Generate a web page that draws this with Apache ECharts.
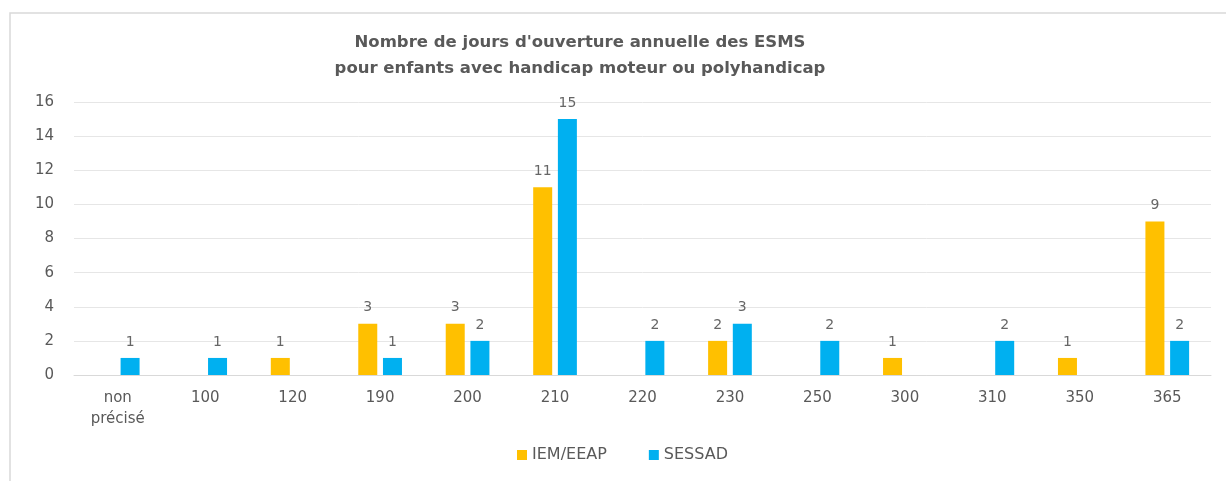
<!DOCTYPE html>
<html>
<head>
<meta charset="utf-8">
<script src="https://cdn.jsdelivr.net/npm/echarts@6/dist/echarts.min.js"></script>
<style>
  html, body { margin: 0; padding: 0; background: #fff; }
  #chart { width: 1226px; height: 481px; }
</style>
</head>
<body>
<div id="chart"></div>
<script>
// catégories (jours d'ouverture)
const categories = ['non\nprécisé', '100', '120', '190', '200', '210', '220', '230', '250', '300', '310', '350', '365'];
// nombre d'établissements
const iemEeap = [null, null, 1, 3, 3, 11, null, 2, null, 1, null, 1, 9];
const sessad = [1, 1, null, 1, 2, 15, 2, 3, 2, null, 2, null, 2];
const seriesNames = ['IEM/EEAP', 'SESSAD'];

const chart = echarts.init(document.getElementById('chart'));

const labelStyle = {
  show: true,
  position: 'top',
  distance: 9,
  color: '#666666',
  fontSize: 14,
  fontFamily: 'DejaVu Sans'
};

chart.setOption({
  animation: false,
  textStyle: { fontFamily: 'DejaVu Sans' },
  graphic: [{
    type: 'rect',
    shape: { x: 10, y: 13, width: 1400, height: 600 },
    style: { fill: 'none', stroke: '#d9d9d9', lineWidth: 1.5 }
  }],
  title: {
    text: "Nombre de jours d'ouverture annuelle des ESMS\npour enfants avec handicap moteur ou polyhandicap",
    left: 575,
    textAlign: 'center',
    top: 25,
    textStyle: {
      color: '#595959',
      fontSize: 16.5,
      fontWeight: 'bold',
      lineHeight: 26,
      fontFamily: 'DejaVu Sans'
    }
  },
  legend: {
    data: seriesNames,
    bottom: 13,
    left: 512,
    icon: 'rect',
    itemWidth: 10,
    itemHeight: 10,
    itemGap: 42,
    textStyle: { color: '#595959', fontSize: 16 }
  },
  grid: {
    left: 74,
    right: 15,
    top: 102,
    bottom: 106
  },
  xAxis: {
    type: 'category',
    data: categories,
    axisLine: { lineStyle: { color: '#d9d9d9' } },
    axisTick: { show: false },
    axisLabel: {
      color: '#595959',
      fontSize: 15,
      margin: 13,
      lineHeight: 21
    }
  },
  yAxis: {
    type: 'value',
    min: 0,
    max: 16,
    interval: 2,
    axisLine: { show: false },
    axisTick: { show: false },
    axisLabel: { color: '#595959', fontSize: 15, margin: 20 },
    splitLine: { lineStyle: { color: '#e6e6e6' } }
  },
  series: [{
    name: seriesNames[0],
    type: 'bar',
    data: iemEeap,
    barWidth: 19,
    barGap: '30%',
    itemStyle: { color: '#FFC000' },
    label: labelStyle
  }, {
    name: seriesNames[1],
    type: 'bar',
    data: sessad,
    barWidth: 19,
    itemStyle: { color: '#00B0F0' },
    label: labelStyle
  }]
});
</script>
</body>
</html>
